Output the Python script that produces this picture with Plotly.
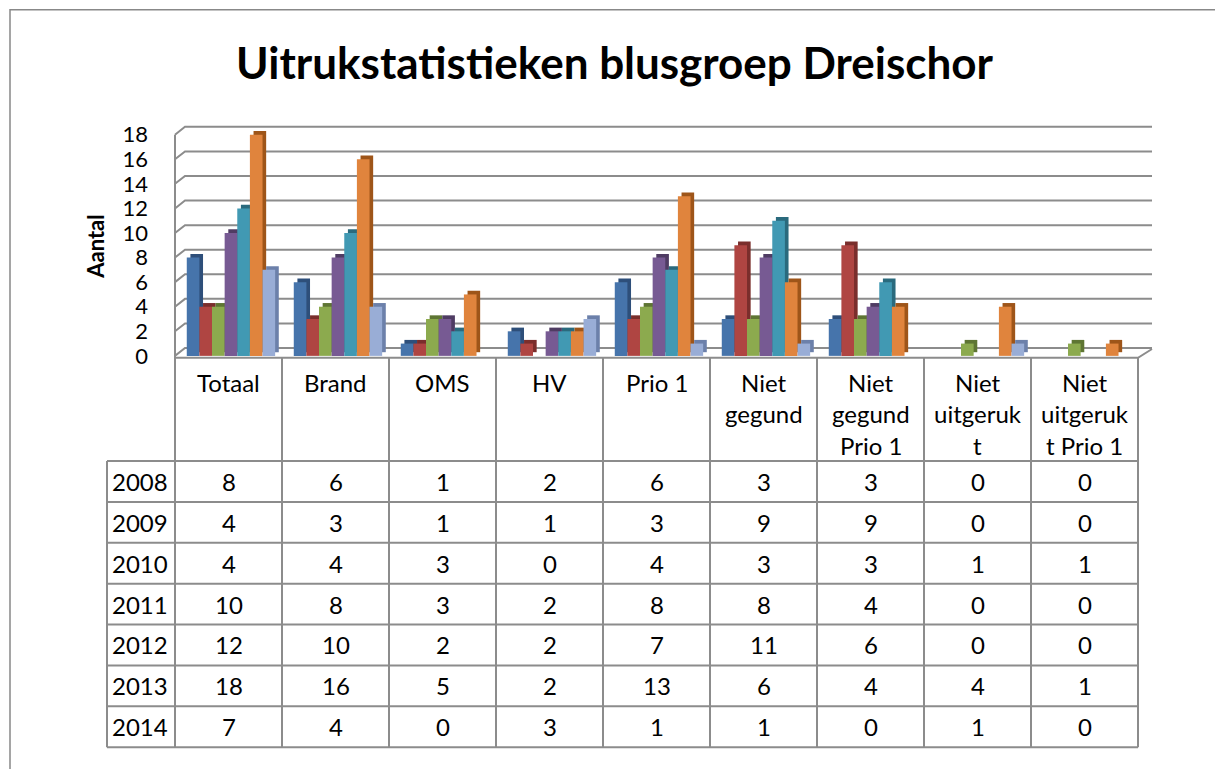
import plotly.graph_objects as go

# ---------------- data ----------------
categories = ["Totaal", "Brand", "OMS", "HV", "Prio 1", "Niet gegund",
              "Niet gegund Prio 1", "Niet uitgerukt", "Niet uitgerukt Prio 1"]
header_lines = [["Totaal"], ["Brand"], ["OMS"], ["HV"], ["Prio 1"],
                ["Niet", "gegund"], ["Niet", "gegund", "Prio 1"],
                ["Niet", "uitgeruk", "t"], ["Niet", "uitgeruk", "t Prio 1"]]
years = ["2008", "2009", "2010", "2011", "2012", "2013", "2014"]
v2008 = [8, 6, 1, 2, 6, 3, 3, 0, 0]
v2009 = [4, 3, 1, 1, 3, 9, 9, 0, 0]
v2010 = [4, 4, 3, 0, 4, 3, 3, 1, 1]
v2011 = [10, 8, 3, 2, 8, 8, 4, 0, 0]
v2012 = [12, 10, 2, 2, 7, 11, 6, 0, 0]
v2013 = [18, 16, 5, 2, 13, 6, 4, 4, 1]
v2014 = [7, 4, 0, 3, 1, 1, 0, 1, 0]
series = [v2008, v2009, v2010, v2011, v2012, v2013, v2014]
y_ticks = [0, 2, 4, 6, 8, 10, 12, 14, 16, 18]
title_text = "Uitrukstatistieken blusgroep Dreischor"
y_title = "Aantal"

# ---------------- style ----------------
front_colors = ["#4674AB", "#AF4542", "#8CAA4E", "#775A93", "#4199B3", "#E0843D", "#99ADD6"]
side_colors = ["#2E4F7A", "#7A2E2C", "#5E7533", "#4F3C63", "#2A6A7D", "#9E5519", "#6C80AA"]
FONT = "Lato, Calibri, sans-serif"
GRID = "#8C8C8C"
W, H = 1215, 769
TXT = 24


def px(p):
    return p / W


def py(p):
    return 1 - p / H


# plot geometry (pixels)
X_LEFT, X_RIGHT = 175, 1138
BACK_DX = 10
BACK_RIGHT = 1152
Y0_PIX = 362
PX_PER_UNIT = 12.5
Y_MAX = 19.2
Y_TOP_PIX = Y0_PIX - Y_MAX * PX_PER_UNIT
DEPTH_UNITS = 8 / PX_PER_UNIT

fig = go.Figure()

bar_w = 0.118
start = -0.39
dx_side = 0.034
dy_side = 0.3

# side/top faces (drawn first)
for i, vals in enumerate(series):
    fig.add_trace(go.Bar(
        x=list(range(len(categories))), y=vals, base=dy_side,
        width=bar_w, offset=start + i * bar_w + dx_side,
        marker=dict(color=side_colors[i], line=dict(width=0)),
        showlegend=False, hoverinfo="skip"))
# front faces
for i, vals in enumerate(series):
    fig.add_trace(go.Bar(
        x=list(range(len(categories))), y=vals, name=years[i],
        width=bar_w, offset=start + i * bar_w,
        marker=dict(color=front_colors[i], line=dict(width=0)),
        showlegend=False))

shapes = []
# gridlines (front tick + back wall)
for v in y_ticks:
    shapes.append(dict(
        type="path", xref="paper", yref="y",
        path=f"M {px(X_LEFT)},{v} L {px(X_LEFT + BACK_DX)},{v + DEPTH_UNITS} L {px(BACK_RIGHT)},{v + DEPTH_UNITS}",
        line=dict(color=GRID, width=2), layer="below"))
# front-left axis line + table left line
shapes.append(dict(type="line", xref="paper", yref="paper",
                   x0=px(X_LEFT), x1=px(X_LEFT), y0=py(Y0_PIX - 18 * PX_PER_UNIT), y1=py(760),
                   line=dict(color=GRID, width=2)))
# floor front edge and right diagonal
shapes.append(dict(type="path", xref="paper", yref="paper",
                   path=f"M {px(X_LEFT)},{py(364)} L {px(X_RIGHT)},{py(364)} L {px(BACK_RIGHT)},{py(355)}",
                   line=dict(color=GRID, width=2)))

# table
col_w = (X_RIGHT - X_LEFT) / len(categories)
row_top = 469
row_h = (760 - 469) / len(years)
for k in range(1, len(categories) + 1):
    xk = X_LEFT + k * col_w
    shapes.append(dict(type="line", xref="paper", yref="paper",
                       x0=px(xk), x1=px(xk), y0=py(364), y1=py(760),
                       line=dict(color=GRID, width=2)))
shapes.append(dict(type="line", xref="paper", yref="paper",
                   x0=px(107), x1=px(107), y0=py(row_top), y1=py(760),
                   line=dict(color=GRID, width=2)))
for r in range(len(years) + 1):
    yr = row_top + r * row_h
    shapes.append(dict(type="line", xref="paper", yref="paper",
                       x0=px(107), x1=px(X_RIGHT), y0=py(yr), y1=py(yr),
                       line=dict(color=GRID, width=2)))
# outer chart border (only top and left edges fall inside the picture)
shapes.append(dict(type="path", xref="paper", yref="paper",
                   path=f"M {px(10)},{py(800)} L {px(10)},{py(10)} L {px(1230)},{py(10)}",
                   line=dict(color="#888888", width=1.5)))

annotations = []
annotations.append(dict(text=f"<b>{title_text}</b>", xref="paper", yref="paper",
                        x=px(615), y=py(63), showarrow=False, xanchor="center", yanchor="middle",
                        font=dict(family=FONT, size=44, color="black")))
annotations.append(dict(text=f"<b>{y_title}</b>", xref="paper", yref="paper",
                        x=px(96), y=py(251), showarrow=False, textangle=-90,
                        xanchor="center", yanchor="middle",
                        font=dict(family=FONT, size=22, color="black")))
# header labels
for k, lines in enumerate(header_lines):
    for j, line in enumerate(lines):
        annotations.append(dict(text=line, xref="x", yref="paper", x=k, y=py(389 + 32 * j),
                                showarrow=False, xanchor="center", yanchor="middle",
                                font=dict(family=FONT, size=TXT, color="black")))
# rows
for r, (yr_label, vals) in enumerate(zip(years, series)):
    yc = row_top + (r + 0.5) * row_h
    annotations.append(dict(text=yr_label, xref="paper", yref="paper", x=px(140), y=py(yc),
                            showarrow=False, xanchor="center", yanchor="middle",
                            font=dict(family=FONT, size=TXT, color="black")))
    for k, v in enumerate(vals):
        annotations.append(dict(text=str(v), xref="x", yref="paper", x=k, y=py(yc),
                                showarrow=False, xanchor="center", yanchor="middle",
                                font=dict(family=FONT, size=TXT, color="black")))

fig.update_layout(
    width=W, height=H, autosize=False,
    margin=dict(l=0, r=0, t=0, b=0),
    paper_bgcolor="white", plot_bgcolor="rgba(0,0,0,0)",
    barmode="overlay",
    xaxis=dict(domain=[px(X_LEFT), px(X_RIGHT)], range=[-0.5, len(categories) - 0.5],
               showticklabels=False, showgrid=False, zeroline=False, showline=False, fixedrange=True),
    yaxis=dict(domain=[py(Y0_PIX), py(Y_TOP_PIX)], range=[0, Y_MAX],
               tickvals=y_ticks, ticktext=[str(t) for t in y_ticks], ticks="",
               ticklabelstandoff=26,
               tickfont=dict(family=FONT, size=22, color="black"),
               showgrid=False, zeroline=False, showline=False, fixedrange=True),
    shapes=shapes, annotations=annotations,
)

fig.write_html("out.html", default_width="1215px", default_height="769px",
               config={"responsive": False, "displayModeBar": False},
               post_script="document.body.style.margin='0';document.body.style.overflow='hidden';")
